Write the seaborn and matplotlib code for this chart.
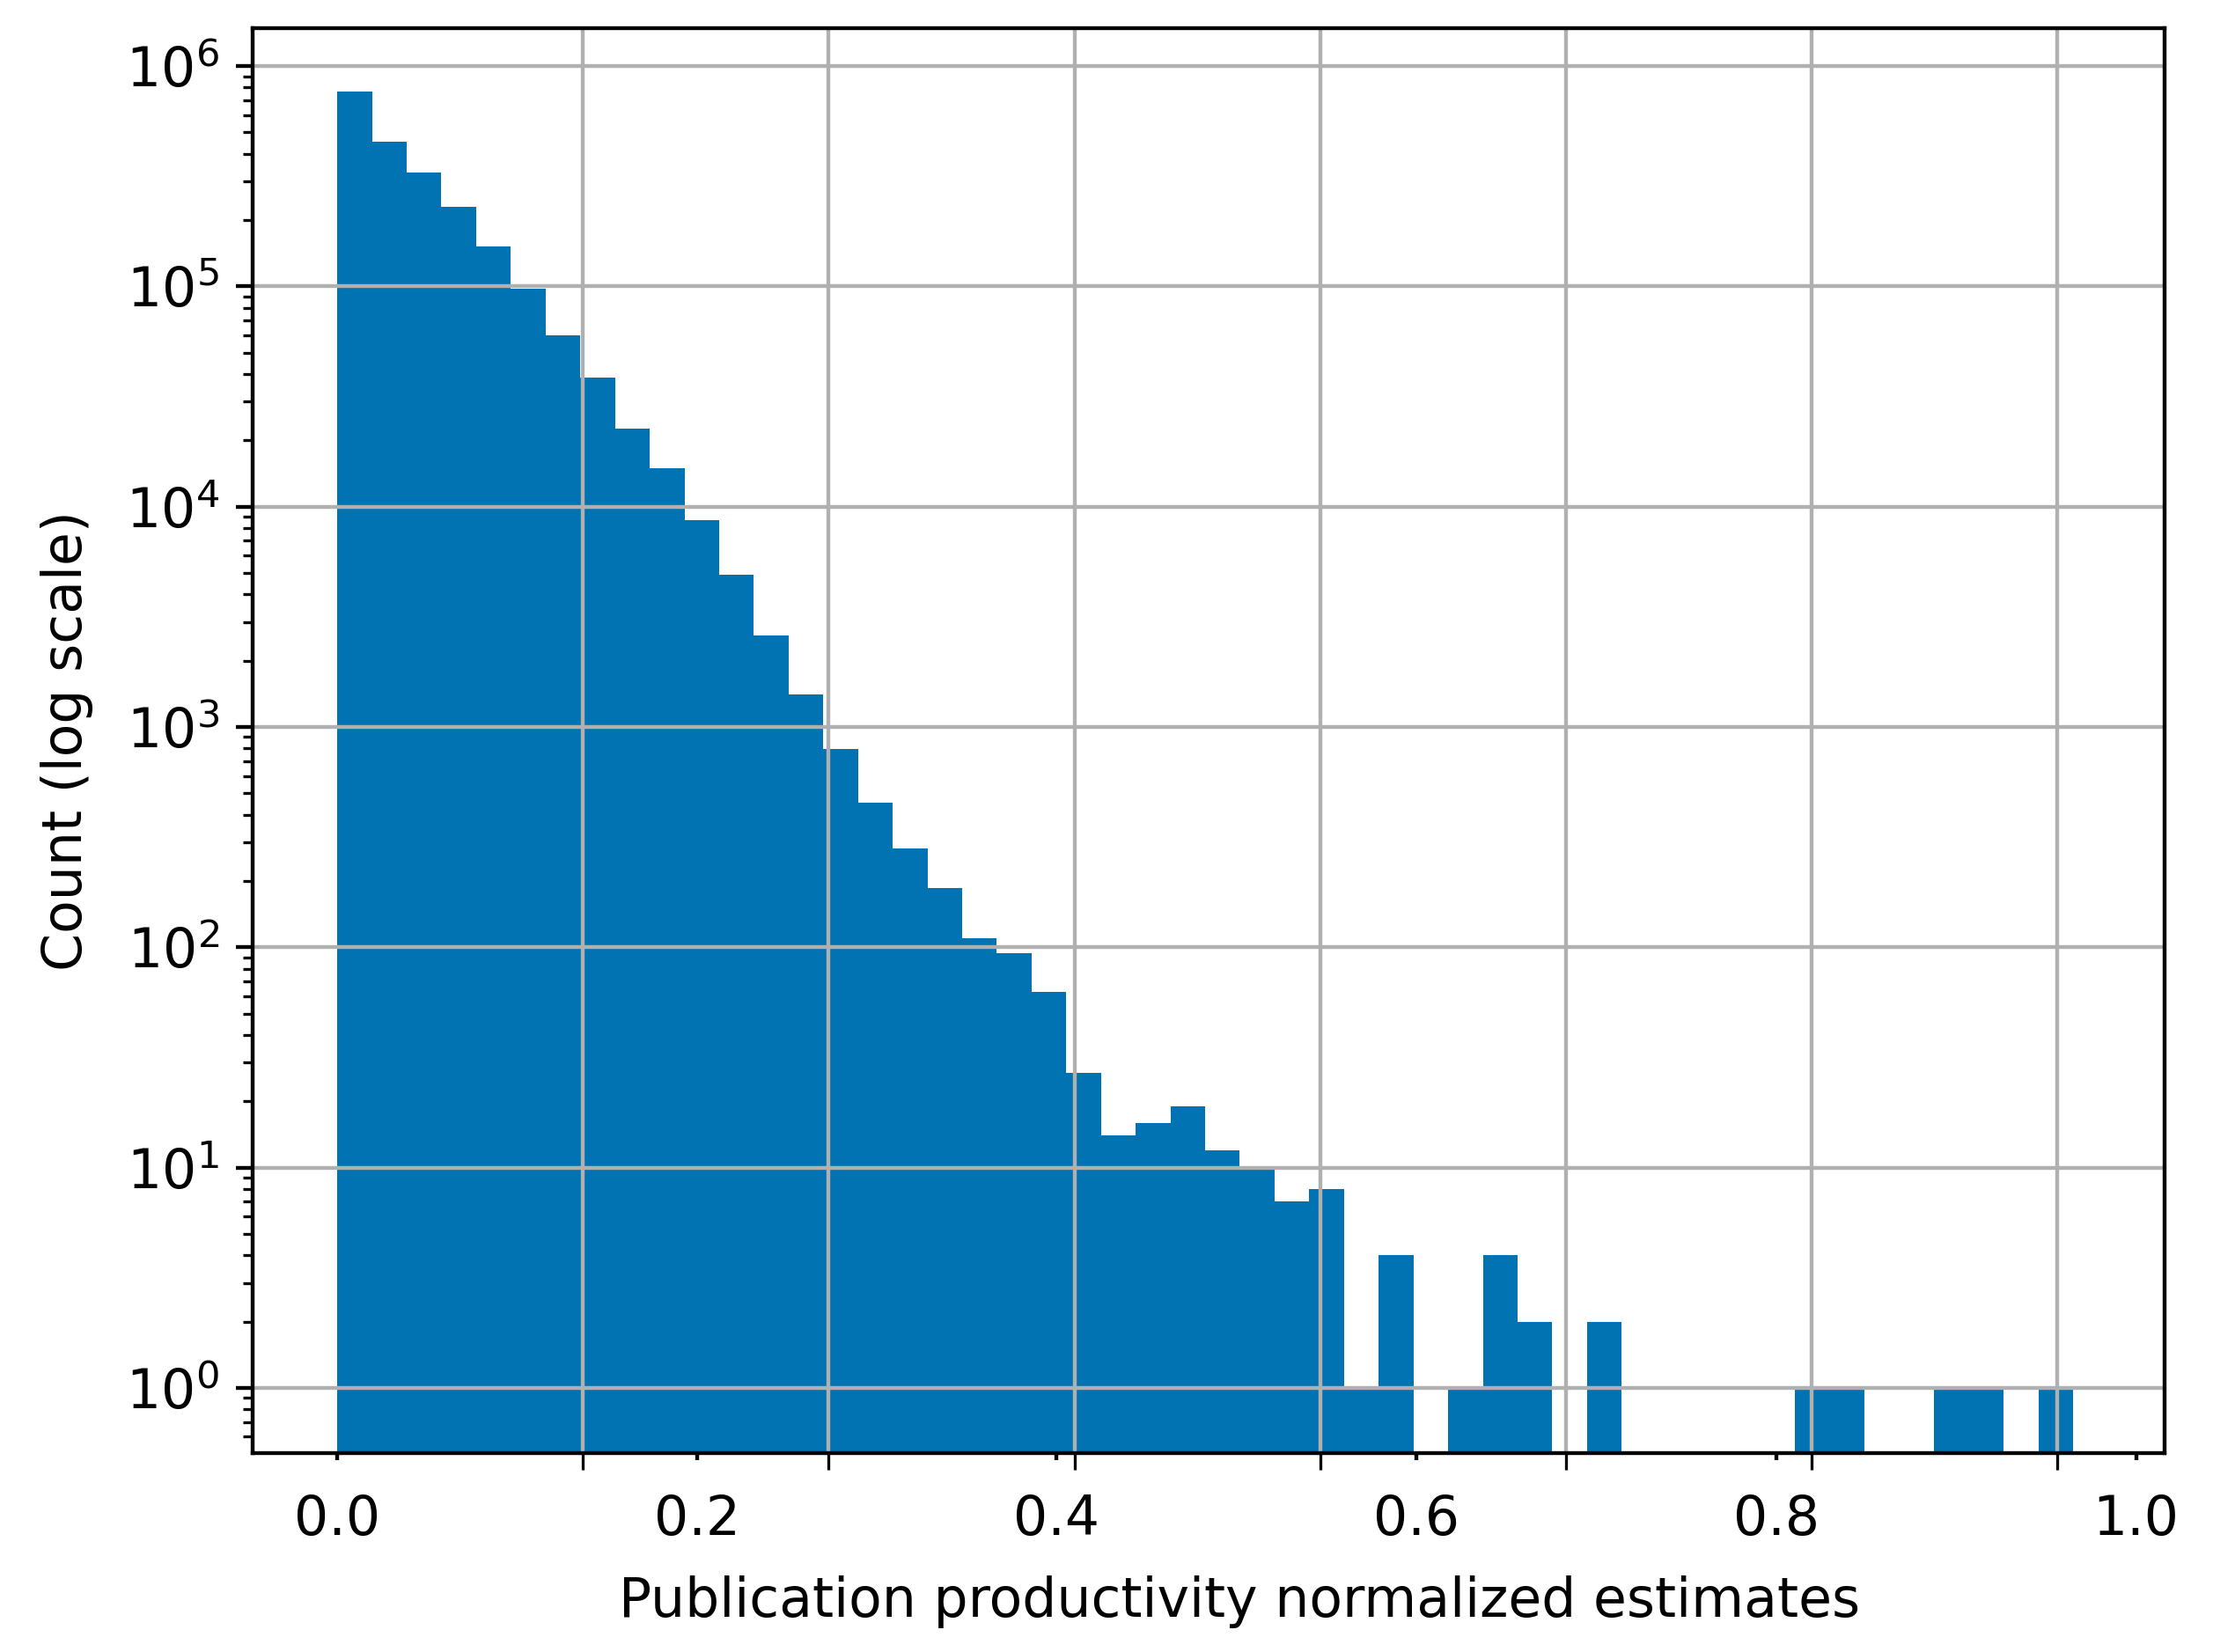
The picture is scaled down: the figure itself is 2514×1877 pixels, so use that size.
"""
Histogram of normalized publication productivity estimates (log-scaled counts).
Outputs -> out.png
"""
import numpy as np
import pandas as pd
import matplotlib
matplotlib.use("Agg")
import matplotlib.pyplot as plt
import seaborn as sns

# --- data ------------------------------------------------------------------
BIN_START = 0.0
BIN_WIDTH = 0.0193

counts = [
    764000, 454000, 328000, 229000, 152000, 98000, 60000, 38600, 22700, 14900,
    8700, 4930, 2600, 1400, 796, 452, 280, 186, 110, 94,
    63, 27, 14, 16, 19, 12, 10, 7, 8, 1,
    4, 0, 1, 4, 2, 0, 2, 0, 0, 0,
    0, 0, 1, 1, 0, 0, 1, 1, 0, 1,
]

x_ticks = [0.0, 0.2, 0.4, 0.6, 0.8, 1.0]
x_tick_labels = ["0.0", "0.2", "0.4", "0.6", "0.8", "1.0"]
# vertical grid lines sit on their own (minor) ticks
x_grid = [0.0, 0.1366, 0.2732, 0.4098, 0.5464, 0.6830, 0.8196, 0.9562]

x_label = "Publication productivity normalized estimates"
y_label = "Count (log scale)"


def main():
    plt.rcParams.update({"font.size": 11.3})

    edges = (BIN_START + BIN_WIDTH * np.arange(len(counts) + 1)).tolist()
    df = pd.DataFrame({"estimate": [e + BIN_WIDTH / 2 for e in edges[:-1]], "n": counts})

    fig = plt.figure(figsize=(2514 / 393, 1877 / 393), dpi=393)
    ax = fig.add_axes([0.1142, 0.1204, 0.8640, 0.8623])

    sns.histplot(
        data=df, x="estimate", weights="n", bins=edges,
        color=sns.color_palette("colorblind")[0], alpha=1, linewidth=0, ax=ax,
    )
    ax.set_yscale("log")
    ax.set_ylim(0.506, 1.48e6)
    ax.set_xlim(-0.047, 1.016)

    ax.set_xticks(x_ticks)
    ax.set_xticklabels(x_tick_labels)
    ax.set_xticks(x_grid, minor=True)
    ax.tick_params(axis="x", which="major", length=1.5, pad=7)
    ax.tick_params(axis="x", which="minor", length=3.5)

    ax.grid(False)
    ax.yaxis.grid(True, which="major", color="#b0b0b0", linewidth=0.8)
    ax.xaxis.grid(True, which="minor", color="#b0b0b0", linewidth=0.8)

    ax.set_xlabel(x_label, x=0.516, labelpad=6)
    ax.set_ylabel(y_label, labelpad=6.8)

    fig.savefig("out.png", dpi=393)
    plt.close(fig)


if __name__ == "__main__":
    main()
